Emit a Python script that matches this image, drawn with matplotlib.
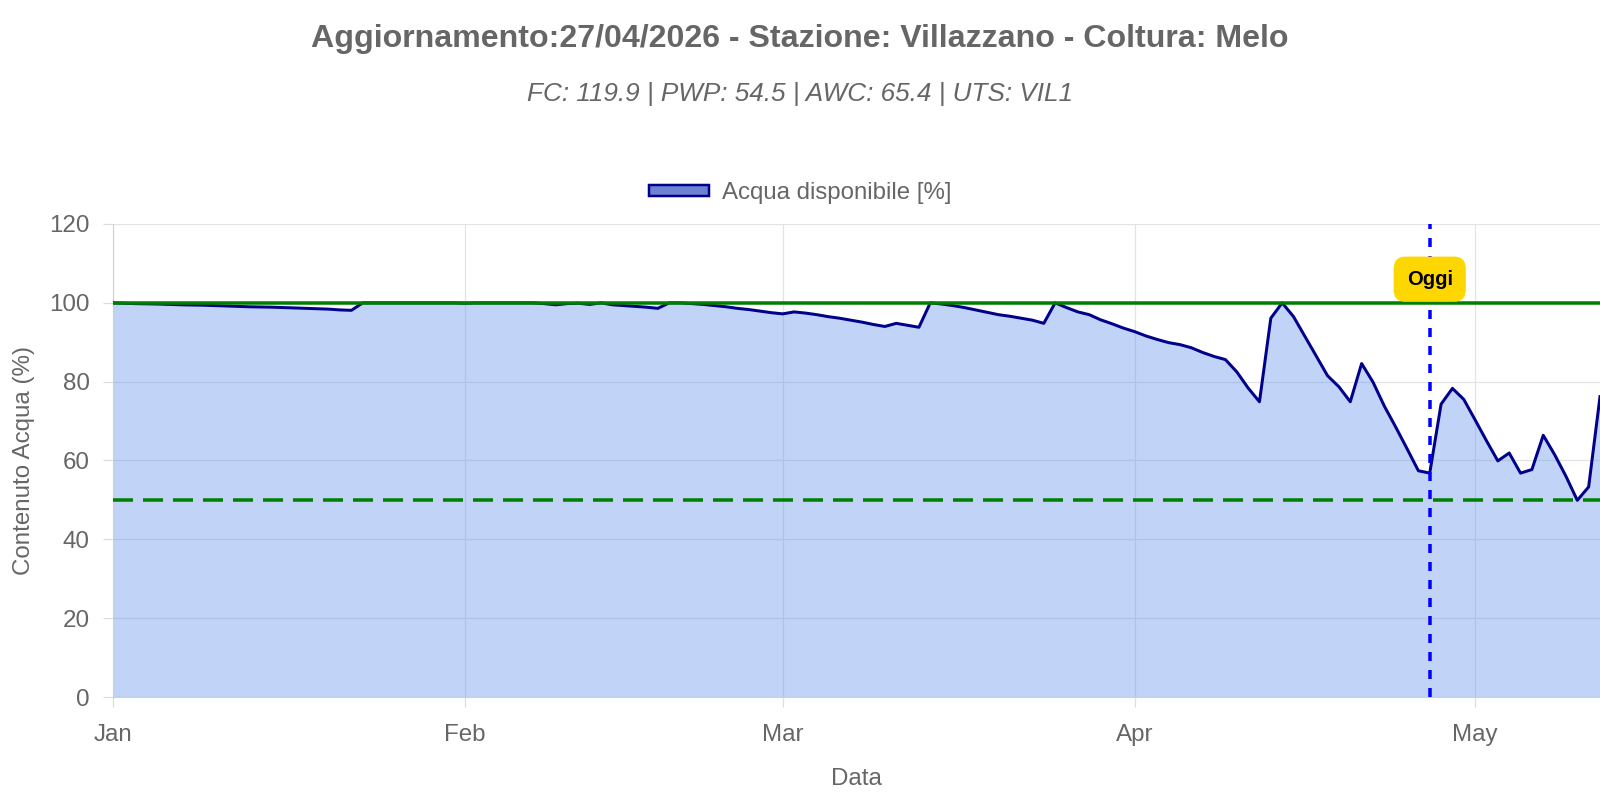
import numpy as np
import pandas as pd
import matplotlib
matplotlib.use("Agg")
import matplotlib.pyplot as plt
import matplotlib.dates as mdates
from matplotlib.patches import Patch

plt.rcParams['font.family'] = ['Liberation Sans', 'DejaVu Sans']
plt.rcParams['lines.scale_dashes'] = False

# --- data ---
start_date = "2026-01-01"
today = "2026-04-27"
acqua = [
    100.0, 99.9, 99.8, 99.75, 99.7, 99.6, 99.5, 99.45, 99.4, 99.3,
    99.2, 99.1, 99.0, 98.95, 98.9, 98.8, 98.7, 98.6, 98.5, 98.4,
    98.2, 98.1, 100.0, 100.0, 100.0, 100.0, 100.0, 100.0, 100.0, 100.0,
    100.0, 99.9, 100.0, 100.0, 100.0, 100.0, 100.0, 100.0, 99.8, 99.5,
    99.8, 99.9, 99.6, 100.0, 99.5, 99.3, 99.1, 98.9, 98.6, 100.0,
    100.0, 99.8, 99.6, 99.3, 99.0, 98.6, 98.3, 97.9, 97.5, 97.2,
    97.7, 97.4, 97.0, 96.5, 96.1, 95.6, 95.1, 94.5, 94.0, 94.8,
    94.3, 93.8, 100.0, 99.7, 99.3, 98.8, 98.2, 97.6, 97.0, 96.6,
    96.1, 95.6, 94.8, 100.0, 98.8, 97.7, 97.0, 95.7, 94.7, 93.6,
    92.7, 91.6, 90.7, 89.9, 89.4, 88.6, 87.4, 86.4, 85.6, 82.5,
    78.4, 74.9, 96.1, 100.0, 96.5, 91.5, 86.5, 81.5, 78.7, 74.9,
    84.6, 79.9, 73.8, 68.5, 63.0, 57.4, 56.8, 74.3, 78.3, 75.5,
    70.3, 65.0, 59.9, 61.9, 56.8, 57.7, 66.4, 61.5, 56.0, 49.9,
    53.3, 76.2,
]
soglia_fc = 100
soglia_stress = 50
y_ticks = [0, 20, 40, 60, 80, 100, 120]

title = "Aggiornamento:27/04/2026 - Stazione: Villazzano - Coltura: Melo"
subtitle = "FC: 119.9 | PWP: 54.5 | AWC: 65.4 | UTS: VIL1"

dates = pd.date_range(start_date, periods=len(acqua), freq="D")
oggi = pd.Timestamp(today)

grey = '#666666'
px = 0.72  # pt per pixel at dpi 100

fig = plt.figure(figsize=(16, 8), dpi=100)
ax = fig.add_axes([113 / 1600, 1 - 697 / 800, 1 - 113 / 1600, (697 - 224) / 800])

ax.fill_between(dates, acqua, 0, color=(100 / 255, 149 / 255, 237 / 255, 0.4), linewidth=0, zorder=2)
ax.plot(dates, acqua, color='#00008b', linewidth=3 * px, zorder=3)

ax.axhline(soglia_fc, color='#008000', linewidth=3.5 * px, zorder=4)
ax.axhline(soglia_stress, color='#008000', linewidth=3.5 * px, dashes=(20 * px, 10 * px), zorder=4)
ax.axvline(oggi, color='#0000ff', linewidth=3.5 * px, dashes=(9 * px, 9 * px), zorder=5)

ax.text(oggi, 106, "Oggi", ha='center', va='center', fontsize=14.5, fontweight='bold',
        color='black', zorder=6,
        bbox=dict(boxstyle='round,pad=0.65,rounding_size=0.6', facecolor='#ffd700', edgecolor='none'))

ax.set_ylim(0, 120)
ax.set_yticks(y_ticks)
ax.set_xlim(dates[0], dates[0] + pd.Timedelta(days=131))
ax.xaxis.set_major_locator(mdates.MonthLocator())
ax.xaxis.set_major_formatter(mdates.DateFormatter('%b'))

ax.grid(True, color='#e3e3e3', linewidth=1.2 * px, zorder=0)
ax.set_axisbelow(True)
for s in ['top', 'right']:
    ax.spines[s].set_visible(False)
ax.spines['left'].set_color('#d0d0d0')
ax.spines['bottom'].set_color('#d0d0d0')
ax.tick_params(axis='both', colors='#dddddd', labelcolor=grey, labelsize=17.4,
               length=10 * px, width=1.2 * px)
ax.tick_params(axis='y', pad=9.5)
ax.tick_params(axis='x', pad=12)

ax.set_ylabel("Contenuto Acqua (%)", fontsize=17.4, color=grey, labelpad=10.5)
ax.set_xlabel("Data", fontsize=17.4, color=grey, labelpad=16)

fig.text(0.5, 1 - 39 / 800, title, ha='center', va='center', fontsize=23.1,
         fontweight='bold', color=grey)
fig.text(0.5, 1 - 94 / 800, subtitle, ha='center', va='center', fontsize=18.8,
         fontstyle='italic', color=grey)

handle = Patch(facecolor=(110 / 255, 130 / 255, 210 / 255), edgecolor='#00008b', linewidth=2.5 * px)
fig.legend([handle], ["Acqua disponibile [%]"], loc='center', bbox_to_anchor=(0.5, 1 - 193 / 800),
           frameon=False, fontsize=17.3, labelcolor=grey, handlelength=2.5, handleheight=0.3,
           handletextpad=0.55)

fig.savefig("out.png", dpi=100)
